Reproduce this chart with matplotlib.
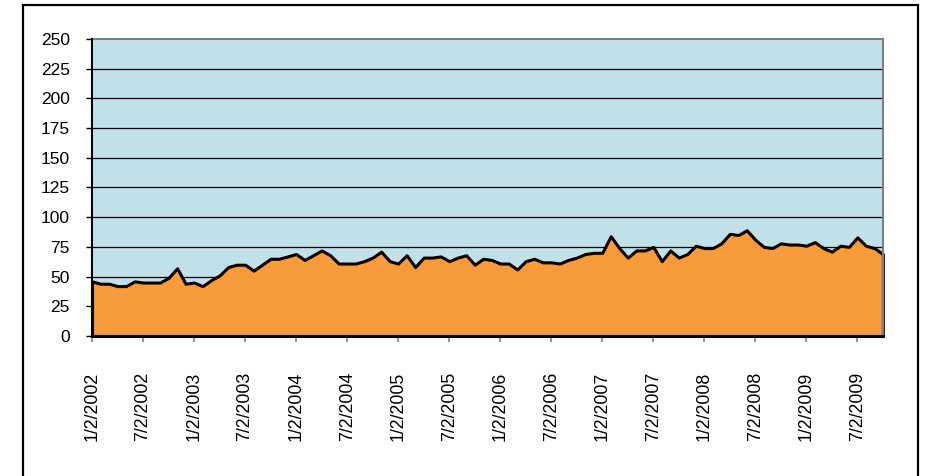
# Monthly area chart, Jan 2002 - Oct 2009.

import numpy as np
import pandas as pd
import matplotlib.pyplot as plt
from matplotlib.patches import Rectangle

plt.rcParams['font.family'] = ['Liberation Sans', 'DejaVu Sans']

# Data (one value per month, starting 1/2/2002)
values = [46, 44, 44, 42, 42, 46, 45, 45, 45, 49, 57, 44, 45, 42, 47, 51,
          58, 60, 60, 55, 60, 65, 65, 67, 69, 64, 68, 72, 68, 61, 61, 61,
          63, 66, 71, 63, 61, 68, 58, 66, 66, 67, 63, 66, 68, 60, 65, 64,
          61, 61, 56, 63, 65, 62, 62, 61, 64, 66, 69, 70, 70, 84, 74,
          66, 72, 72, 75, 63, 72, 66, 69, 76, 74, 74, 78, 86, 85, 89, 81,
          75, 74, 78, 77, 77, 76, 79, 74, 71, 76, 75, 83, 76, 74, 69]
months = pd.date_range('2002-01-01', periods=len(values), freq='MS') + pd.Timedelta(days=1)
yticks = [0, 25, 50, 75, 100, 125, 150, 175, 200, 225, 250]

x = np.arange(len(values))
tick_idx = x[::6]
tick_labels = ['%d/%d/%d' % (d.month, d.day, d.year) for d in months[::6]]

fig = plt.figure(figsize=(9.26, 4.76), dpi=100)
ax = fig.add_axes([0.0994, 0.2941, 0.854, 0.6240])
ax.set_facecolor('#C0E1EA')

# horizontal gridlines
for v in yticks[1:-1]:
    ax.axhline(v, color='black', lw=0.9, zorder=1)

ax.fill_between(x, values, 0, facecolor='#F89B3C', edgecolor='black',
                lw=2.2, zorder=2, clip_on=False)

ax.set_xlim(0, len(values) - 1)
ax.set_ylim(0, 250)
ax.set_yticks(yticks)
ax.set_xticks(tick_idx)
ax.set_xticklabels(tick_labels, rotation=90, va='top', ha='center')

ax.tick_params(axis='y', labelsize=12.5, length=4, width=1, color='black', pad=12)
ax.tick_params(axis='x', labelsize=12.8, length=4, width=1.2, color='#808080', pad=22)

# Clean up the box: gray plot border top/right, black axes left/bottom
ax.spines['top'].set_color('#808080')
ax.spines['right'].set_color('#808080')
ax.spines['top'].set_linewidth(1.5)
ax.spines['right'].set_linewidth(1.5)
ax.spines['left'].set_color('black')
ax.spines['left'].set_linewidth(1.5)
ax.spines['bottom'].set_color('black')
ax.spines['bottom'].set_linewidth(2)
ax.spines['left'].set_zorder(3)
ax.spines['bottom'].set_zorder(3)

# outer chart border (runs off the bottom of the picture)
fig.patches.append(Rectangle((23 / 926, -0.05), 895 / 926, 1.05 - 5 / 476,
                             transform=fig.transFigure, fill=False,
                             edgecolor='black', lw=1.6))

# title sits above the picture, only a descender shows
fig.text(448 / 926, 1 + 6 / 476, 'y', fontsize=13, ha='center', va='baseline')

fig.savefig('out.png', dpi=100)
